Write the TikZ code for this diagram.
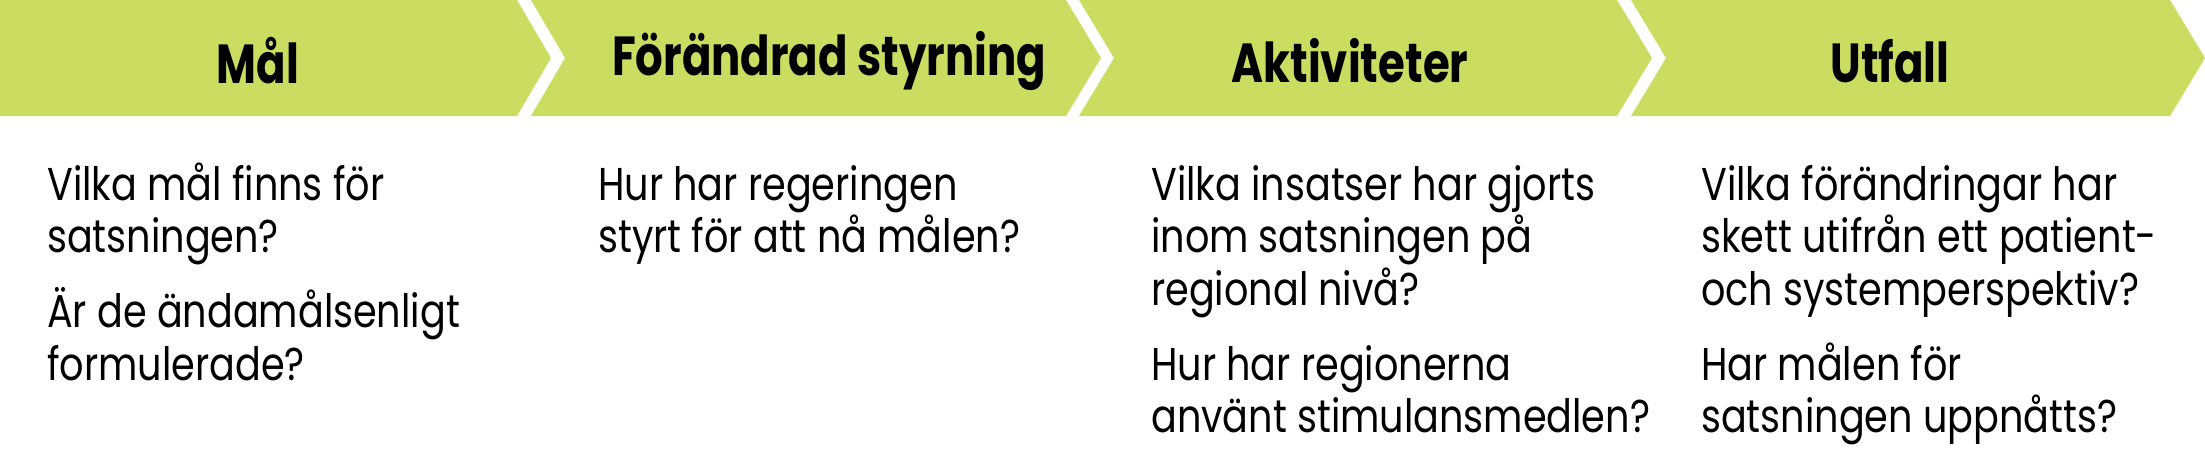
\documentclass[tikz,border=0pt]{standalone}
\usepackage{fontspec}
\setmainfont{Poppins}
\newfontfamily\bodyf{Poppins}[FakeStretch=0.83]
\newfontfamily\titlef{Poppins}[FakeStretch=0.79]
\definecolor{chev}{RGB}{203,221,97}
\tikzset{
  chevfill/.style={fill=chev, draw=none},
  titletext/.style={inner sep=0pt, anchor=center, font=\titlef\bfseries\fontsize{55}{60}\selectfont, text=black},
  bodytext/.style={inner sep=0pt, anchor=base west, font=\bodyf\fontsize{46}{52}\selectfont, text=black}
}
\begin{document}
\begin{tikzpicture}[x=1pt,y=-1pt]
\useasboundingbox (0,0) rectangle (2205,448);
% chevrons
\fill[chevfill] (0,0) -- (517,0) -- (551,58) -- (517,116) -- (0,116) -- cycle;
\fill[chevfill] (531,0) -- (1066,0) -- (1101,58) -- (1066,116) -- (531,116) -- (565,58) -- cycle;
\fill[chevfill] (1079,0) -- (1617,0) -- (1652,58) -- (1617,116) -- (1079,116) -- (1114,58) -- cycle;
\fill[chevfill] (1631,0) -- (2170,0) -- (2205,58) -- (2170,116) -- (1631,116) -- (1666,58) -- cycle;
% titles
\node[titletext] (t1) at (258,61) {Mål};
\node[titletext] (t2) at (829,61) {Förändrad styrning};
\node[titletext] (t3) at (1350,61) {Aktiviteter};
\node[titletext] (t4) at (1890,61) {Utfall};
% column 1
\node[bodytext] (a1) at (47,200) {Vilka mål finns för};
\node[bodytext] (a2) at (47,252) {satsningen?};
\node[bodytext] (a3) at (47,327) {Är de ändamålsenligt};
\node[bodytext] (a4) at (47,380) {formulerade?};
% column 2
\node[bodytext] (b1) at (598,200) {Hur har regeringen};
\node[bodytext] (b2) at (598,252) {styrt för att nå målen?};
% column 3
\node[bodytext] (c1) at (1151,200) {Vilka insatser har gjorts};
\node[bodytext] (c2) at (1151,252) {inom satsningen på};
\node[bodytext] (c3) at (1151,305) {regional nivå?};
\node[bodytext] (c4) at (1151,380) {Hur har regionerna};
\node[bodytext] (c5) at (1151,432) {använt stimulansmedlen?};
% column 4
\node[bodytext] (d1) at (1701,200) {Vilka förändringar har};
\node[bodytext] (d2) at (1701,252) {skett utifrån ett patient-};
\node[bodytext] (d3) at (1701,305) {och systemperspektiv?};
\node[bodytext] (d4) at (1701,380) {Har målen för};
\node[bodytext] (d5) at (1701,432) {satsningen uppnåtts?};
\end{tikzpicture}
\end{document}
